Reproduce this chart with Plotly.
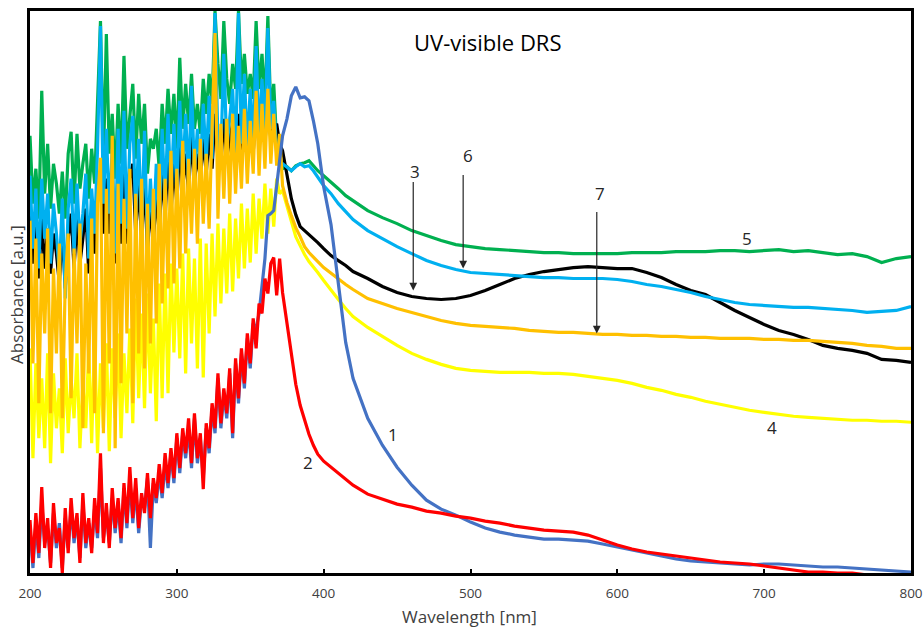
import plotly.graph_objects as go

# Wavelength grids (nm)
wl_uv = list(range(200, 372, 2))
wl_vis = [372, 375, 378, 381, 384, 387, 390, 393, 396, 400, 405, 410, 415, 420,
          430, 440, 450, 460, 470, 480, 490, 500, 510, 520, 530, 540, 550, 560,
          570, 580, 590, 600, 610, 620, 630, 640, 650, 660, 670, 680, 690, 700,
          710, 720, 730, 740, 750, 760, 770, 780, 790, 800]

# Absorbance (a.u.)
abs1_uv = [0.45, 0.05, 0.50, 0.15, 0.70, 0.30, 0.45, 0.10, 0.60, 0.25,
           0.50, 0.05, 0.55, 0.25, 0.65, 0.30, 0.55, 0.15, 0.70, 0.25,
           0.50, 0.25, 0.65, 0.35, 1.05, 0.35, 0.60, 0.30, 0.75, 0.40,
           0.70, 0.30, 0.85, 0.45, 0.95, 0.50, 0.85, 0.40, 0.75, 0.65,
           0.95, 0.25, 0.90, 0.70, 1.00, 0.75, 1.10, 0.85, 1.20, 0.90,
           1.35, 1.00, 1.40, 1.15, 1.45, 1.05, 1.55, 1.10, 1.35, 0.95,
           1.45, 1.20, 1.65, 1.40, 1.95, 1.45, 1.80, 1.55, 2.00, 1.35,
           2.10, 1.70, 2.20, 1.85, 2.35, 2.05, 2.50, 2.45, 2.60, 2.90,
           3.15, 3.58, 3.60, 3.63, 3.90, 4.10]
abs1_vis = [4.38, 4.55, 4.78, 4.87, 4.76, 4.77, 4.73, 4.53, 4.30, 3.87, 3.49, 2.90, 2.31, 1.95,
            1.55, 1.28, 1.06, 0.88, 0.73, 0.64, 0.58, 0.51, 0.45, 0.41, 0.38, 0.36, 0.34, 0.34,
            0.33, 0.32, 0.29, 0.26, 0.23, 0.20, 0.17, 0.14, 0.12, 0.11, 0.10, 0.09, 0.08, 0.09,
            0.09, 0.08, 0.07, 0.06, 0.06, 0.05, 0.04, 0.03, 0.02, 0.01]

abs2_uv = [0.53, 0.10, 0.60, 0.20, 0.86, 0.25, 0.55, 0.05, 0.70, 0.30,
           0.45, 0.00, 0.65, 0.20, 0.75, 0.35, 0.60, 0.10, 0.80, 0.30,
           0.55, 0.20, 0.75, 0.40, 1.20, 0.30, 0.70, 0.25, 0.85, 0.45,
           0.75, 0.35, 0.90, 0.50, 1.06, 0.55, 0.95, 0.45, 0.80, 0.60,
           1.00, 0.55, 0.95, 0.75, 1.09, 0.80, 1.20, 0.90, 1.25, 0.95,
           1.40, 1.05, 1.45, 1.20, 1.55, 1.10, 1.60, 1.15, 1.40, 0.84,
           1.50, 1.25, 1.70, 1.45, 2.00, 1.50, 1.85, 1.60, 2.05, 1.40,
           2.15, 1.75, 2.25, 1.90, 2.40, 2.10, 2.55, 2.25, 2.70, 2.60,
           2.95, 2.80, 3.10, 3.16, 2.78, 3.15]
abs2_vis = [2.81, 2.51, 2.18, 1.89, 1.68, 1.53, 1.39, 1.28, 1.19, 1.12, 1.06, 1.00, 0.94, 0.88,
            0.79, 0.74, 0.69, 0.66, 0.62, 0.60, 0.57, 0.55, 0.52, 0.50, 0.47, 0.45, 0.43, 0.42,
            0.41, 0.38, 0.33, 0.28, 0.24, 0.21, 0.19, 0.17, 0.15, 0.13, 0.11, 0.10, 0.09, 0.07,
            0.05, 0.03, 0.01, 0.01, 0.00, 0.00, -0.02, -0.03, -0.03, -0.04]

abs3_uv = [3.60, 3.10, 3.50, 2.95, 3.55, 3.05, 3.45, 3.00, 3.40, 3.20,
           2.90, 3.45, 2.85, 3.35, 3.60, 3.05, 3.55, 3.10, 3.35, 3.65,
           3.00, 3.55, 3.20, 3.85, 4.00, 3.40, 3.95, 3.40, 3.90, 3.10,
           4.00, 3.30, 4.10, 3.30, 3.95, 4.10, 3.40, 3.95, 3.30, 4.00,
           3.20, 3.70, 3.30, 3.80, 3.40, 4.05, 3.55, 4.20, 3.60, 4.10,
           3.70, 4.30, 3.85, 4.20, 3.80, 4.40, 3.90, 4.20, 3.95, 4.35,
           4.00, 4.40, 4.05, 4.60, 4.15, 4.10, 4.55, 4.15, 4.35, 4.50,
           4.05, 4.60, 4.20, 4.60, 4.15, 4.55, 4.20, 4.70, 4.25, 4.60,
           4.30, 4.75, 4.35, 4.46, 4.50, 4.30]
abs3_vis = [4.23, 3.98, 3.75, 3.59, 3.47, 3.43, 3.39, 3.36, 3.31, 3.25, 3.18, 3.13, 3.08, 3.02,
            2.95, 2.87, 2.81, 2.77, 2.75, 2.74, 2.75, 2.78, 2.83, 2.89, 2.95, 2.99, 3.02, 3.04,
            3.06, 3.07, 3.06, 3.05, 3.05, 3.01, 2.96, 2.89, 2.83, 2.79, 2.71, 2.63, 2.56, 2.49,
            2.43, 2.39, 2.34, 2.28, 2.25, 2.23, 2.20, 2.14, 2.13, 2.11]

abs4_uv = [2.25, 1.15, 2.10, 1.35, 1.95, 1.25, 2.20, 1.10, 2.00, 1.45,
           1.85, 1.20, 2.15, 1.40, 1.95, 1.55, 2.20, 1.25, 1.90, 1.45,
           2.25, 1.30, 2.35, 1.20, 2.10, 1.45, 2.30, 1.22, 2.25, 1.55,
           2.40, 1.35, 2.20, 1.60, 2.45, 1.50, 2.75, 1.75, 2.60, 1.65,
           2.80, 1.80, 2.55, 1.52, 2.90, 1.75, 3.00, 1.80, 3.10, 2.21,
           3.05, 2.15, 3.20, 2.00, 3.25, 2.30, 3.15, 2.05, 3.35, 1.96,
           3.30, 2.40, 3.40, 2.57, 3.50, 2.70, 3.45, 2.80, 3.60, 2.82,
           3.55, 2.95, 3.70, 3.05, 3.65, 3.11, 3.80, 3.20, 3.75, 3.35,
           3.90, 3.40, 3.85, 3.47, 3.95, 3.80]
abs4_vis = [3.83, 3.67, 3.51, 3.37, 3.28, 3.19, 3.12, 3.07, 3.01, 2.93, 2.83, 2.74, 2.65, 2.57,
            2.46, 2.37, 2.28, 2.20, 2.14, 2.09, 2.05, 2.03, 2.02, 2.01, 2.01, 2.01, 2.00, 2.00,
            1.99, 1.97, 1.95, 1.93, 1.90, 1.86, 1.83, 1.79, 1.76, 1.72, 1.69, 1.66, 1.63, 1.61,
            1.59, 1.57, 1.56, 1.55, 1.54, 1.53, 1.53, 1.52, 1.52, 1.51]

abs5_uv = [4.38, 3.70, 4.05, 3.55, 4.83, 3.80, 4.30, 3.65, 4.10, 3.90,
           3.60, 4.02, 3.55, 4.20, 4.42, 3.70, 4.40, 3.85, 4.10, 4.30,
           3.75, 4.25, 3.90, 4.70, 5.53, 4.10, 5.40, 4.20, 4.60, 3.95,
           4.70, 4.10, 5.18, 4.25, 4.60, 4.90, 4.15, 4.80, 4.30, 4.70,
           4.00, 4.35, 4.25, 4.45, 4.05, 4.70, 4.30, 4.85, 4.40, 4.80,
           4.25, 5.16, 4.45, 4.90, 4.50, 5.00, 4.45, 4.70, 4.40, 4.95,
           4.60, 5.00, 4.70, 5.63, 5.10, 4.75, 5.53, 4.95, 4.70, 5.10,
           4.85, 5.63, 4.90, 5.20, 4.80, 5.00, 4.75, 5.53, 4.85, 5.20,
           4.70, 5.58, 4.60, 4.90, 4.30, 4.20]
abs5_vis = [4.05, 4.07, 4.03, 4.08, 4.10, 4.11, 4.13, 4.08, 4.03, 3.98, 3.92, 3.85, 3.78, 3.73,
            3.63, 3.56, 3.50, 3.43, 3.38, 3.33, 3.29, 3.27, 3.25, 3.24, 3.23, 3.22, 3.21, 3.21,
            3.20, 3.20, 3.20, 3.20, 3.21, 3.21, 3.21, 3.22, 3.22, 3.22, 3.23, 3.23, 3.22, 3.23,
            3.24, 3.22, 3.23, 3.21, 3.19, 3.20, 3.17, 3.11, 3.15, 3.17]

abs6_uv = [3.98, 3.25, 3.85, 3.05, 3.95, 3.35, 3.80, 3.10, 3.70, 3.40,
           3.00, 3.75, 2.75, 3.65, 3.95, 3.20, 3.90, 3.30, 3.60, 4.00,
           3.15, 3.85, 3.40, 4.25, 5.48, 3.70, 4.45, 3.60, 4.25, 3.20,
           4.45, 3.50, 4.63, 3.45, 4.30, 4.58, 3.55, 4.35, 3.45, 4.43,
           3.30, 3.95, 3.40, 4.10, 3.50, 4.45, 3.70, 4.60, 3.75, 4.50,
           3.80, 4.73, 3.95, 4.60, 3.90, 4.88, 4.00, 4.45, 4.05, 4.70,
           4.10, 4.78, 4.15, 5.61, 4.30, 4.20, 5.20, 4.25, 4.55, 4.85,
           4.15, 5.61, 4.30, 5.00, 4.25, 4.85, 4.30, 5.28, 4.35, 4.95,
           4.40, 5.46, 4.45, 4.73, 4.20, 4.08]
abs6_vis = [4.10, 4.06, 4.03, 4.07, 4.10, 4.07, 4.08, 4.03, 3.96, 3.88, 3.80, 3.70, 3.62, 3.54,
            3.43, 3.35, 3.27, 3.20, 3.13, 3.08, 3.04, 3.01, 3.00, 2.99, 2.98, 2.97, 2.96, 2.96,
            2.95, 2.95, 2.95, 2.94, 2.92, 2.89, 2.87, 2.84, 2.81, 2.77, 2.74, 2.71, 2.69, 2.68,
            2.67, 2.66, 2.66, 2.65, 2.64, 2.63, 2.61, 2.62, 2.63, 2.67]

abs7_uv = [3.53, 2.10, 3.35, 1.70, 3.20, 2.40, 3.45, 1.60, 3.05, 2.20,
           3.30, 1.55, 2.90, 3.40, 1.75, 3.25, 2.30, 3.50, 1.45, 3.10,
           2.00, 3.55, 1.60, 3.70, 4.16, 1.40, 3.85, 2.10, 4.38, 1.25,
           3.90, 1.90, 3.75, 2.40, 4.05, 1.70, 3.80, 2.20, 3.95, 2.05,
           3.70, 2.30, 3.85, 2.50, 4.10, 2.70, 3.95, 2.85, 4.23, 2.90,
           4.05, 3.05, 4.33, 3.20, 4.15, 3.40, 4.25, 3.30, 4.35, 3.50,
           4.20, 3.45, 4.45, 5.41, 3.55, 4.50, 3.75, 4.55, 3.70, 4.60,
           3.80, 4.48, 3.85, 4.65, 3.90, 4.53, 4.00, 4.83, 3.98, 4.70,
           4.05, 4.85, 4.10, 4.60, 4.08, 4.40]
abs7_vis = [3.88, 3.71, 3.58, 3.46, 3.37, 3.27, 3.21, 3.16, 3.12, 3.06, 3.00, 2.95, 2.89, 2.84,
            2.75, 2.70, 2.65, 2.61, 2.57, 2.53, 2.50, 2.48, 2.47, 2.46, 2.45, 2.43, 2.42, 2.41,
            2.41, 2.40, 2.39, 2.39, 2.38, 2.38, 2.37, 2.37, 2.36, 2.36, 2.35, 2.35, 2.35, 2.34,
            2.34, 2.33, 2.33, 2.32, 2.31, 2.30, 2.28, 2.27, 2.25, 2.25]

# Series labels and styles (drawing order: bottom to top)
series = [
    ("5", abs5_uv, abs5_vis, "#00B050"),
    ("3", abs3_uv, abs3_vis, "#000000"),
    ("6", abs6_uv, abs6_vis, "#00B0F0"),
    ("4", abs4_uv, abs4_vis, "#FFFF00"),
    ("7", abs7_uv, abs7_vis, "#FFC000"),
    ("1", abs1_uv, abs1_vis, "#4472C4"),
    ("2", abs2_uv, abs2_vis, "#FF0000"),
]

# Curve label positions (wavelength, absorbance)
labels = [("1", 447, 1.39), ("2", 389, 1.11), ("3", 462, 4.02), ("6", 498, 4.18),
          ("7", 588, 3.80), ("5", 688, 3.35), ("4", 705, 1.46)]
# Arrows: (tip wavelength, tip absorbance, tail offset px)
arrows = [(461, 2.83, -110), (495, 3.05, -95), (586, 2.40, -123)]

fig = go.Figure()
for name, yu, yv, col in series:
    fig.add_trace(go.Scatter(x=wl_uv + wl_vis, y=yu + yv, mode="lines", name=name,
                             line=dict(color=col, width=3.2), showlegend=False))

font = "Open Sans"
ann = []
for t, x, y in labels:
    ann.append(dict(x=x, y=y, xref="x", yref="y", text=t, showarrow=False,
                    xanchor="center", yanchor="middle",
                    font=dict(family=font, size=17, color="#262626")))
for x, y, ay in arrows:
    ann.append(dict(x=x, y=y, xref="x", yref="y", text="", showarrow=True,
                    ax=0, ay=ay, arrowhead=2, arrowsize=1.3, arrowwidth=1.2,
                    arrowcolor="#262626"))
ann.append(dict(x=0.52, y=0.945, xref="paper", yref="paper", text="UV-visible DRS",
                xanchor="center", yanchor="middle",
                showarrow=False, font=dict(family=font, size=22, color="#000000")))
ann.append(dict(x=0.4994, y=0, xref="paper", yref="paper", yshift=-43, text="Wavelength [nm]",
                xanchor="center", yanchor="middle",
                showarrow=False, font=dict(family=font, size=17, color="#404040")))
ann.append(dict(x=0, y=0.4947, xref="paper", yref="paper", xshift=-13, textangle=-90,
                xanchor="center", yanchor="middle",
                text="Absorbance [a.u.]", showarrow=False,
                font=dict(family=font, size=17, color="#404040")))

fig.update_layout(
    width=923, height=628,
    margin=dict(l=30, r=12, t=11, b=55, autoexpand=False),
    paper_bgcolor="white", plot_bgcolor="white",
    annotations=ann,
    xaxis=dict(range=[200, 800], tickvals=[200, 300, 400, 500, 600, 700, 800],
               automargin=False, ticklabeloverflow="allow",
               ticks="inside", ticklen=4, tickwidth=2, tickcolor="black",
               ticklabelstandoff=6,
               showline=True, linecolor="black", linewidth=3, mirror=True,
               showgrid=False, zeroline=False,
               tickfont=dict(family=font, size=13.5, color="#404040")),
    yaxis=dict(range=[0, 5.63], showticklabels=False, ticks="", automargin=False,
               showline=True, linecolor="black", linewidth=3, mirror=True,
               showgrid=False, zeroline=False),
)

fig.write_html("out.html", config={"responsive": False})
